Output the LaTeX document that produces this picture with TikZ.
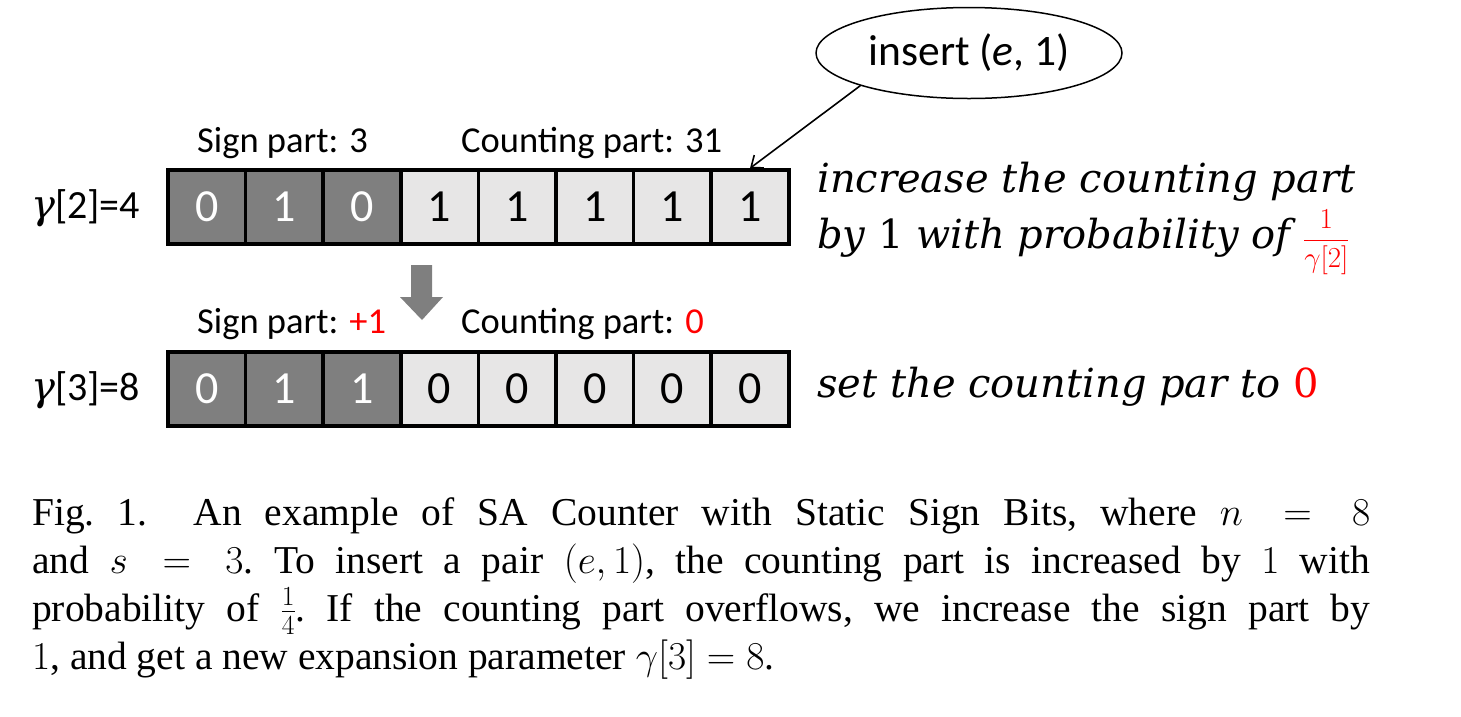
\RequirePackage{fix-cm}
\documentclass[tikz,border=0pt]{standalone}
\usepackage{amsmath}
\usepackage{fontspec}
\setmainfont{Liberation Serif}
\newfontfamily\calfont{Carlito}
\newfontfamily\notefont{DejaVu Serif}
\usetikzlibrary{arrows.meta,shapes.geometric,positioning}
\definecolor{signgray}{HTML}{7F7F7F}
\definecolor{countgray}{HTML}{E7E6E6}
\definecolor{redacc}{HTML}{FF0000}
\newcommand{\smallfrac}[3]{{\fontsize{#1}{#1}\selectfont$\dfrac{#2}{#3}$}}
\tikzset{
  cell/.style={draw,line width=3.5pt,minimum width=77.6pt,minimum height=74pt,
    inner sep=0pt,font=\calfont\fontsize{46}{50}\selectfont},
  signcell/.style={cell,fill=signgray,text=white},
  countcell/.style={cell,fill=countgray,text=black},
  partlabel/.style={anchor=base west,inner sep=0pt,font=\calfont\fontsize{36.5}{40}\selectfont},
  gammalabel/.style={anchor=base west,inner sep=0pt,font=\calfont\fontsize{40}{46}\selectfont},
  note/.style={anchor=base west,inner sep=0pt,font=\notefont\itshape\fontsize{40}{46}\selectfont}
}

\begin{document}
\begin{tikzpicture}[x=1pt,y=-1pt]
  \useasboundingbox (0,0) rectangle (1461,716);
  % before the insertion
  \foreach \v [count=\i] in {0,1,0}
    \node[signcell] (t\i) at ({168+77.6*(\i-0.5)},207) {\v};
  \foreach \v [count=\i from 4] in {1,1,1,1,1}
    \node[countcell] (t\i) at ({168+77.6*(\i-0.5)},207) {\v};
  % after the overflow
  \foreach \v [count=\i] in {0,1,1}
    \node[signcell] (n\i) at ({168+77.6*(\i-0.5)},389) {\v};
  \foreach \v [count=\i from 4] in {0,0,0,0,0}
    \node[countcell] (n\i) at ({168+77.6*(\i-0.5)},389) {\v};

  \node[gammalabel] (g2) at (31,218) {{\notefont\itshape γ}[2]=4};
  \node[gammalabel] (g3) at (31,400) {{\notefont\itshape γ}[3]=8};

  \node[partlabel] (sp2) at (197,152) {Sign part: 3};
  \node[partlabel] (cp2) at (461,152) {Counting part: 31};
  \node[partlabel] (sp3) at (197,333) {Sign part: \textcolor{redacc}{+1}};
  \node[partlabel] (cp3) at (461,333) {Counting part: \textcolor{redacc}{0}};

  \node[ellipse,draw,line width=1.5pt,minimum width=306pt,minimum height=91pt,
    font=\calfont\fontsize{43.5}{46}\selectfont] (ins) at (969,53)
    {insert (\textit{e}, 1)};
  \draw[-{Straight Barb[length=10pt,width=16pt]},line width=1.6pt]
    (ins.south west) -- (t8.north);

  \fill[signgray] (411,265) -- (432,265) -- (432,297) -- (443,297)
    -- (422,320) -- (400,297) -- (411,297) -- cycle;

  \node[note] (inc1) at (817,192) {increase the counting part};
  \node[note] (inc2) at (817,248)
    {by {\upshape 1} with probability of \textcolor{redacc}{\smallfrac{29}{1}{\gamma[2]}}};
  \node[note] (set) at (817,397)
    {set the counting par to \textcolor{redacc}{\upshape 0}};

  \node[anchor=north west,inner sep=0pt,text width=1338pt,align=justify,
    font=\fontsize{39.5}{48}\selectfont\frenchspacing] (cap) at (32,497)
    {Fig.~1.\ \ An example of SA Counter with Static Sign Bits, where $n = 8$\linebreak
     and $s = 3$. To insert a pair $(e, 1)$, the counting part is increased by $1$ with\linebreak
     probability of $\frac{1}{4}$. If the counting part overflows, we increase the sign part by\linebreak
     $1$, and get a new expansion parameter $\gamma[3] = 8$.};
\end{tikzpicture}
\end{document}
